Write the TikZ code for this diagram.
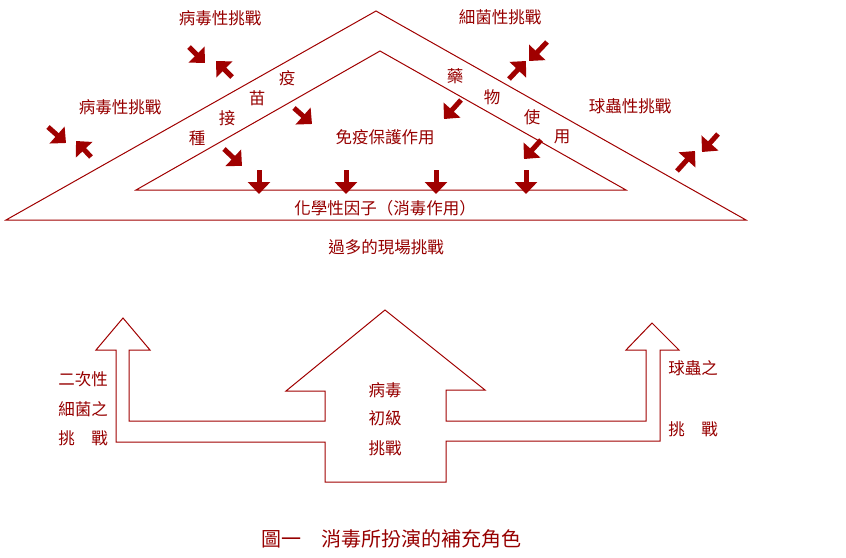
\documentclass[tikz,border=0pt]{standalone}
\usepackage{fontspec}
\newfontfamily\cjk{Noto Sans CJK TC}
\usetikzlibrary{arrows.meta}
\definecolor{dred}{RGB}{160,0,0}
\definecolor{tred}{RGB}{150,0,0}
\tikzset{
  outline/.style={draw=dred, line width=1pt, line join=miter},
  fatarrow/.style={draw=dred, line width=5pt, -{Triangle[width=22pt,length=12pt]}, shorten >=0pt},
  lbl/.style={text=tred, inner sep=0pt, font=\cjk\fontsize{16.5}{18}\selectfont},
  captxt/.style={text=tred, inner sep=0pt, font=\cjk\fontsize{20}{22}\selectfont}
}
\begin{document}
\begin{tikzpicture}[x=1pt,y=-1pt]
\useasboundingbox (0,0) rectangle (846,557);
% triangles
\coordinate (oa) at (376,11); \coordinate (ol) at (6,220); \coordinate (or) at (746,220);
\coordinate (ia) at (380,51); \coordinate (il) at (136,190); \coordinate (ir) at (626,190);
\draw[outline] (ol) -- (oa) -- (or) -- cycle;
\draw[outline] (il) -- (ia) -- (ir) -- cycle;
% arrows
\draw[fatarrow] (189,47) -- (205,63);
\draw[fatarrow] (232,77) -- (216,61);
\draw[fatarrow] (48,127) -- (66,143);
\draw[fatarrow] (91,157) -- (76,141);
\draw[fatarrow] (294,108) -- (312,124);
\draw[fatarrow] (224,149) -- (242,166);
\foreach \x in {259,346,436,526} \draw[fatarrow] (\x,170) -- (\x,194);
\draw[fatarrow] (461,100) -- (444,119);
\draw[fatarrow] (541,140) -- (524,159);
\draw[fatarrow] (509,79) -- (526,61);
\draw[fatarrow] (547,42) -- (529,61);
\draw[fatarrow] (677,171) -- (695,151);
\draw[fatarrow] (718,134) -- (702,152);
% top labels
\node[lbl] (v1) at (220,18) {病毒性挑戰};
\node[lbl] (v2) at (120,107) {病毒性挑戰};
\node[lbl] (b1) at (500,17) {細菌性挑戰};
\node[lbl] (c1) at (630,106) {球蟲性挑戰};
\node[lbl] (y1) at (287,78) {疫};
\node[lbl] (y2) at (257,98) {苗};
\node[lbl] (y3) at (227,118) {接};
\node[lbl] (y4) at (197,138) {種};
\node[lbl] (d1) at (455,76) {藥};
\node[lbl] (d2) at (492,97) {物};
\node[lbl] (d3) at (532,117) {使};
\node[lbl] (d4) at (562,137) {用};
\node[lbl] (imm) at (385,137) {免疫保護作用};
\node[lbl] (chem) at (385,208) {化學性因子（消毒作用）};
\node[lbl] (field) at (386,247) {過多的現場挑戰};
% bottom shape
\draw[outline] (116,442) -- (116,350) -- (96,350) -- (123,318) -- (150,350) -- (129,350)
  -- (129,421) -- (325,421) -- (325,391) -- (286,391) -- (385,310) -- (485,390)
  -- (446,390) -- (446,421) -- (646,421) -- (646,350) -- (626,350) -- (652,323)
  -- (679,350) -- (660,350) -- (660,441) -- (446,441) -- (446,482) -- (325,482)
  -- (325,442) -- cycle;
\node[lbl] (p1) at (385,390) {病毒};
\node[lbl] (p2) at (385,418) {初級};
\node[lbl] (p3) at (385,448) {挑戰};
\node[lbl] (s1) at (83,379) {二次性};
\node[lbl] (s2) at (83,409) {細菌之};
\node[lbl] (s3) at (83,438) {挑　戰};
\node[lbl] (r1) at (693,368) {球蟲之};
\node[lbl] (r2) at (693,429) {挑　戰};
\node[captxt] (caption) at (391,539) {圖一　消毒所扮演的補充角色};
\end{tikzpicture}
\end{document}
